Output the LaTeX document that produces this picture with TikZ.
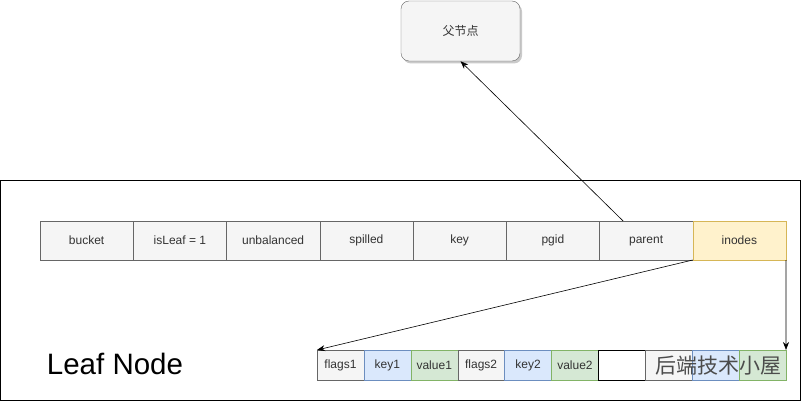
\documentclass[tikz,border=0pt]{standalone}
\usepackage{fontspec}
\setmainfont{Liberation Sans}
\newfontfamily\cjkfont{Noto Sans CJK SC}
\usetikzlibrary{arrows.meta,positioning,shadows}
\definecolor{lnGrayFill}{HTML}{F5F5F5}
\definecolor{lnGrayDraw}{HTML}{666666}
\definecolor{lnBlueFill}{HTML}{DAE8FC}
\definecolor{lnBlueDraw}{HTML}{6C8EBF}
\definecolor{lnGreenFill}{HTML}{D5E8D4}
\definecolor{lnGreenDraw}{HTML}{82B366}
\definecolor{lnYellowFill}{HTML}{FFF2CC}
\definecolor{lnYellowDraw}{HTML}{D6B656}
\definecolor{lnInk}{HTML}{333333}
\tikzset{
  hdrbox/.style={rectangle,minimum width=93.25pt,minimum height=39pt,
    inner sep=0pt,outer sep=0pt,draw=lnGrayDraw,fill=lnGrayFill,
    font=\fontsize{12}{14}\selectfont,text=lnInk},
  elbox/.style={rectangle,minimum width=46.9pt,minimum height=30pt,
    inner sep=0pt,outer sep=0pt,draw=lnGrayDraw,fill=lnGrayFill,
    font=\fontsize{12}{14}\selectfont,text=lnInk},
  bluebox/.style={draw=lnBlueDraw,fill=lnBlueFill},
  greenbox/.style={draw=lnGreenDraw,fill=lnGreenFill},
  yellowbox/.style={draw=lnYellowDraw,fill=lnYellowFill},
  parentbox/.style={rectangle,rounded corners=8pt,minimum width=119pt,
    minimum height=60pt,draw=lnGrayDraw,fill=lnGrayFill,
    font=\cjkfont\fontsize{12}{14}\selectfont,text=lnInk,
    drop shadow={shadow xshift=2pt,shadow yshift=-2.5pt,fill=black!35,opacity=0.6}},
  arr/.style={-{Stealth[length=8pt,width=6pt]},semithick,color=black},
}
\begin{document}
\begin{tikzpicture}[x=1pt,y=-1pt]
  \useasboundingbox (0,0) rectangle (801,401);

  % parent node above
  \node[parentbox] (fnode) at (460.5,31) {父节点};

  % the leaf page frame
  \draw[line width=1pt] (0.5,181) rectangle (800.5,400.5);
  \node[font=\fontsize{29.5}{33}\selectfont,text=black] (leaflbl) at (115,364) {Leaf Node};

  % page header fields
  \node[hdrbox,anchor=north west] (bucket) at (40,221) {bucket};
  \node[hdrbox,right=0pt of bucket] (isleaf) {isLeaf = 1};
  \node[hdrbox,right=0pt of isleaf] (unbal) {unbalanced};
  \node[hdrbox,right=0pt of unbal] (spilled) {spilled};
  \node[hdrbox,right=0pt of spilled] (key) {key};
  \node[hdrbox,right=0pt of key] (pgid) {pgid};
  \node[hdrbox,right=0pt of pgid] (parent) {parent};
  \node[hdrbox,yellowbox,right=0pt of parent] (inodes) {inodes};

  % inode elements
  \node[elbox,anchor=north west] (flags1) at (317,350) {flags1};
  \node[elbox,bluebox,right=0pt of flags1] (key1) {key1};
  \node[elbox,greenbox,right=0pt of key1] (value1) {value1};
  \node[elbox,right=0pt of value1] (flags2) {flags2};
  \node[elbox,bluebox,right=0pt of flags2] (key2) {key2};
  \node[elbox,greenbox,right=0pt of key2] (value2) {value2};
  \node[elbox,draw=black,fill=white,right=0pt of value2] (gap) {};
  \node[elbox,right=0pt of gap] (flagsN) {};
  \node[elbox,bluebox,right=0pt of flagsN] (keyN) {};
  \node[elbox,greenbox,right=0pt of keyN] (valueN) {};

  \node[font=\cjkfont\fontsize{21}{24}\selectfont,text=black!70] (wmark)
    at (718,366) {后端技术小屋};

  \draw[arr] ([xshift=-23pt]parent.north) -- (fnode.south);
  \draw[arr] (inodes.south west) -- (flags1.north west);
  \draw[arr] (inodes.south east) -- (valueN.north east);

\end{tikzpicture}
\end{document}
